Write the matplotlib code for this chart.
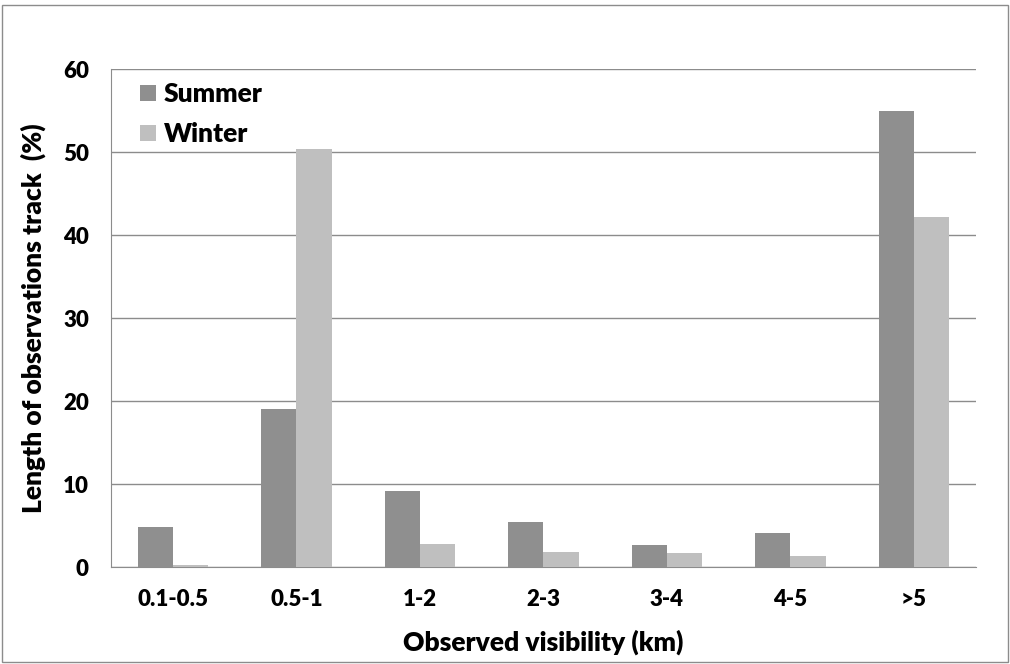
import matplotlib.pyplot as plt
import matplotlib.patches as mpatches
import numpy as np

plt.rcParams["font.family"] = ["Lato", "DejaVu Sans"]
plt.rcParams["font.weight"] = "bold"
plt.rcParams["axes.labelweight"] = "bold"

categories = ["0.1-0.5", "0.5-1", "1-2", "2-3", "3-4", "4-5", ">5"]
summer = [4.8, 19.0, 9.2, 5.4, 2.65, 4.1, 54.9]
winter = [0.2, 50.4, 2.8, 1.8, 1.7, 1.3, 42.2]
yticks = [0, 10, 20, 30, 40, 50, 60]

fig = plt.figure(figsize=(10.1, 6.64), dpi=100)
ax = fig.add_axes([0.11, 0.146, 0.856, 0.75])

x = np.arange(len(categories))
w = 0.285
ax.bar(x - w / 2, summer, width=w, color="#8f8f8f", label="Summer", zorder=3)
ax.bar(x + w / 2, winter, width=w, color="#bfbfbf", label="Winter", zorder=3)

ax.set_xlim(-0.5, len(categories) - 0.5)
ax.set_ylim(0, 60)
ax.set_yticks(yticks, [str(v) for v in yticks], fontsize=16, fontweight="heavy")
ax.set_xticks(x, categories, fontsize=16, fontweight="heavy")
ax.tick_params(axis="both", length=0)
ax.tick_params(axis="x", pad=16)
ax.tick_params(axis="y", pad=16)
ax.grid(axis="y", color="#8c8c8c", linewidth=1, zorder=0)

for s in ["top", "right"]:
    ax.spines[s].set_visible(False)
for s in ["left", "bottom"]:
    ax.spines[s].set_color("#8c8c8c")

ax.set_xlabel("Observed visibility (km)", fontsize=19, fontweight="heavy", labelpad=14)
ax.set_ylabel("Length of observations track  (%)", fontsize=19, fontweight="heavy",
              labelpad=12)

ax.legend(loc="upper left", frameon=False, prop={"size": 19, "weight": "heavy"},
          handlelength=0.6, handleheight=0.6, handletextpad=0.3, labelspacing=0.6,
          bbox_to_anchor=(0.006, 1.021))

fig.patches.append(mpatches.Rectangle((0.002, 0.003), 0.996, 0.989,
                                      transform=fig.transFigure, fill=False,
                                      edgecolor="#8c8c8c", linewidth=1))

fig.savefig("out.png", dpi=100)
